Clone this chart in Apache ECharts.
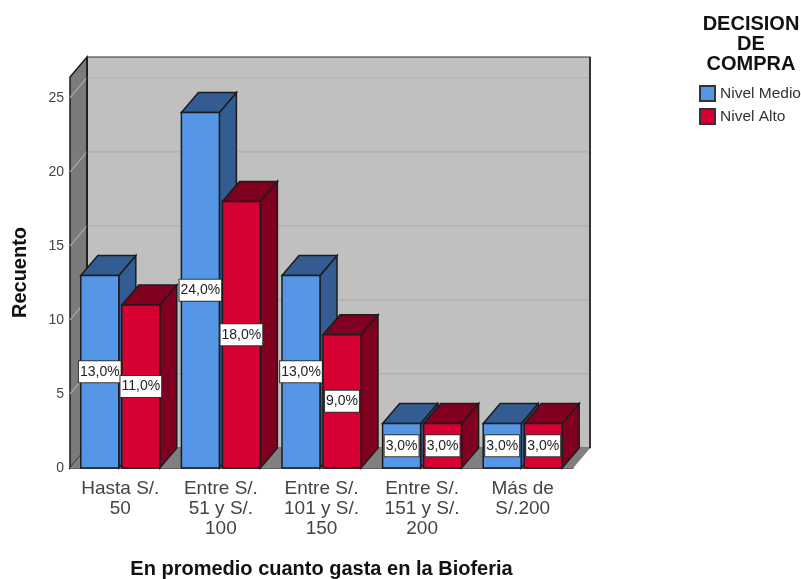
<!DOCTYPE html>
<html>
<head>
<meta charset="utf-8">
<style>html,body{margin:0;padding:0;background:#fff}#c{width:801px;height:579px}</style>
<script src="https://cdn.jsdelivr.net/npm/echarts@6/dist/echarts.min.js"></script>
</head>
<body>
<div id="c"></div>
<script>
const categories = ['Hasta S/.\n50', 'Entre S/.\n51 y S/.\n100', 'Entre S/.\n101 y S/.\n150', 'Entre S/.\n151 y S/.\n200', 'Más de\nS/.200'];
const nivelMedio = [13, 24, 13, 3, 3];
const nivelAlto = [11, 18, 9, 3, 3];
const labelsMedio = ['13,0%', '24,0%', '13,0%', '3,0%', '3,0%'];
const labelsAlto = ['11,0%', '18,0%', '9,0%', '3,0%', '3,0%'];
const yTicks = [0, 5, 10, 15, 20, 25];
const yMax = 26.4;

const FONT = '"Liberation Sans", Arial, sans-serif';
const DX = 17, DY = 20, BAR_W = 38, OFFSET = 20.5;
const EDGE = '#1c1c1c';

function poly(points, fill, stroke, lw) {
  return { type: 'polygon', shape: { points }, style: { fill, stroke: stroke || EDGE, lineWidth: lw === undefined ? 1.5 : lw } };
}
function line(x1, y1, x2, y2, color, lw) {
  return { type: 'line', shape: { x1, y1, x2, y2 }, style: { stroke: color, lineWidth: lw } };
}

function renderFrame(params, api) {
  const g = params.coordSys;
  const L = g.x, R = g.x + g.width, T = g.y, B = g.y + g.height;
  const children = [
    poly([[L + DX, T - DY], [R + DX, T - DY], [R + DX, B - DY], [L + DX, B - DY]], '#c0c0c0', '#303030', 1.2),
    poly([[L, B], [L + DX, B - DY], [L + DX, T - DY], [L, T]], '#7b7b7b'),
    poly([[L, B], [R, B], [R + DX, B - DY], [L + DX, B - DY]], '#808080', '#808080', 0.5)
  ];
  yTicks.forEach(function (t) {
    if (t === 0) return;
    const y = api.coord([0, t])[1];
    children.push(line(L + DX, y - DY, R + DX, y - DY, '#aeaeae', 1.2));
    children.push(line(L, y, L + DX, y - DY, '#a8a8a8', 1.2));
  });
  children.push(line(L + DX, T - DY, L + DX, B - DY, EDGE, 1.5));
  children.push(line(R + DX, T - DY, R + DX, B - DY, '#333333', 2));
  return { type: 'group', children };
}

function barRenderer(front, dark, offset, labels) {
  return function (params, api) {
    const idx = api.value(0);
    const top = api.coord([idx, api.value(1)]);
    const base = api.coord([idx, 0]);
    const x0 = top[0] + offset - BAR_W / 2, x1 = x0 + BAR_W;
    const yT = top[1], yB = base[1];
    return {
      type: 'group',
      children: [
        poly([[x1, yT], [x1 + DX, yT - DY], [x1 + DX, yB - DY], [x1, yB]], dark),
        poly([[x0, yT], [x0 + DX, yT - DY], [x1 + DX, yT - DY], [x1, yT]], dark),
        { type: 'rect', shape: { x: x0, y: yT, width: BAR_W, height: yB - yT }, style: { fill: front, stroke: EDGE, lineWidth: 1.5 } },
        {
          type: 'text', z2: 50,
          x: (x0 + x1) / 2, y: (yT + yB) / 2,
          style: {
            text: labels[params.dataIndex], font: '14px ' + FONT, fill: '#222',
            align: 'center', verticalAlign: 'middle',
            backgroundColor: '#ffffff', borderColor: '#333', borderWidth: 1, padding: [4, 1, 3, 1]
          }
        }
      ]
    };
  };
}

const chart = echarts.init(document.getElementById('c'));
chart.setOption({
  animation: false,
  backgroundColor: '#ffffff',
  textStyle: { fontFamily: FONT },
  grid: { left: 70, right: 228, top: 77, bottom: 111, containLabel: false, outerBoundsMode: 'none' },
  title: {
    text: 'DECISION\nDE\nCOMPRA', left: 751, top: 14, textAlign: 'center', padding: 0,
    textStyle: { fontFamily: FONT, fontSize: 20, fontWeight: 'bold', color: '#111', lineHeight: 20 }
  },
  legend: {
    data: ['Nivel Medio', 'Nivel Alto'], orient: 'vertical', left: 699, top: 85, padding: 0,
    itemWidth: 15, itemHeight: 15, itemGap: 6, icon: 'rect',
    textStyle: { fontFamily: FONT, fontSize: 15.5, color: '#333' }
  },
  xAxis: {
    type: 'category', data: categories,
    name: 'En promedio cuanto gasta en la Bioferia', nameLocation: 'middle', nameGap: 91,
    nameTextStyle: { fontFamily: FONT, fontSize: 20, fontWeight: 'bold', color: '#111' },
    axisLine: { show: true, lineStyle: { color: '#222', width: 1.5 } },
    axisTick: { show: false },
    axisLabel: { interval: 0, margin: 11, fontFamily: FONT, fontSize: 19, lineHeight: 20, color: '#444' }
  },
  yAxis: {
    type: 'value', min: 0, max: yMax, interval: 5,
    name: 'Recuento', nameLocation: 'middle', nameGap: 40, nameRotate: 90,
    nameTextStyle: { fontFamily: FONT, fontSize: 20, fontWeight: 'bold', color: '#111' },
    axisLine: { show: false }, axisTick: { show: false }, splitLine: { show: false },
    axisLabel: { showMaxLabel: false, margin: 6, fontFamily: FONT, fontSize: 14, color: '#444' }
  },
  series: [
    { type: 'custom', name: 'frame', silent: true, z: 1, data: [[0, 0]], encode: { x: 0, y: 1 }, renderItem: renderFrame },
    {
      type: 'custom', name: 'Nivel Medio', z: 2, encode: { x: 0, y: 1 },
      itemStyle: { color: '#5596e6', borderColor: '#333', borderWidth: 1 },
      data: nivelMedio.map(function (v, i) { return [i, v]; }),
      renderItem: barRenderer('#5596e6', '#335c92', -OFFSET, labelsMedio)
    },
    {
      type: 'custom', name: 'Nivel Alto', z: 3, encode: { x: 0, y: 1 },
      itemStyle: { color: '#d60032', borderColor: '#333', borderWidth: 1 },
      data: nivelAlto.map(function (v, i) { return [i, v]; }),
      renderItem: barRenderer('#d60032', '#80001f', OFFSET, labelsAlto)
    }
  ]
});
</script>
</body>
</html>
